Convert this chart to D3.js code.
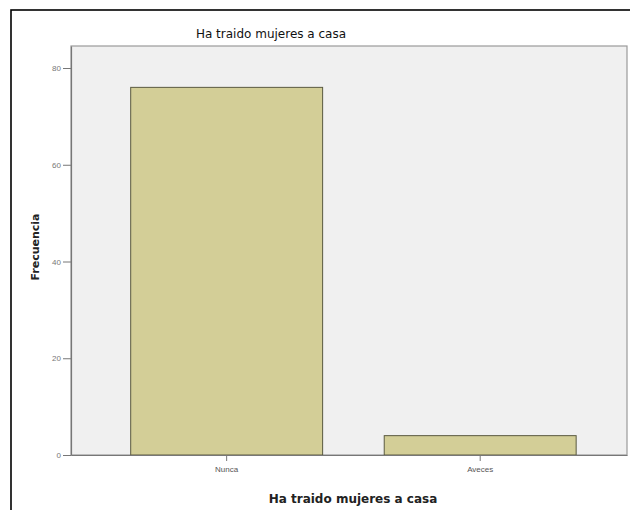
<!DOCTYPE html>
<html><head><meta charset="utf-8">
<script src="https://cdn.jsdelivr.net/npm/d3@7"></script>
<style>body{margin:0;background:#fff;} svg{display:block;font-family:"Liberation Sans",Arial,sans-serif;}</style>
</head><body>
<script>
const categories = ["Nunca", "Aveces"];
const frequencies = [76, 4];
const yTicks = [0, 20, 40, 60, 80];
const chartTitle = "Ha traido mujeres a casa";
const xTitle = "Ha traido mujeres a casa";
const yTitle = "Frecuencia";

const W = 630, H = 510;
const svg = d3.select("body").append("svg").attr("width", W).attr("height", H);

// outer frame
svg.append("rect").attr("x", 11).attr("y", 10).attr("width", 640).attr("height", 520)
  .attr("fill", "#fff").attr("stroke", "#000").attr("stroke-width", 1.6);

const plot = {left: 71, right: 627, top: 46, bottom: 455};

const x = d3.scaleBand().domain(categories).range([plot.left, plot.right])
  .paddingInner(0.243).paddingOuter(0.218).align(0.54);
const y = d3.scaleLinear().domain([0, 84.55]).range([plot.bottom, plot.top]);

svg.append("rect").attr("x", plot.left).attr("y", plot.top)
  .attr("width", plot.right - plot.left).attr("height", plot.bottom - plot.top)
  .attr("fill", "#f0f0f0").attr("stroke", "#9a9a9a").attr("stroke-width", 1.2);

svg.selectAll("rect.bar").data(categories).enter().append("rect").attr("class", "bar")
  .attr("x", d => x(d)).attr("width", x.bandwidth())
  .attr("y", (d, i) => y(frequencies[i])).attr("height", (d, i) => y(0) - y(frequencies[i]))
  .attr("fill", "#d3ce97").attr("stroke", "#5a5a40").attr("stroke-width", 1);

// y axis
const yAxis = svg.append("g").attr("transform", `translate(${plot.left},0)`)
  .call(d3.axisLeft(y).tickValues(yTicks).tickSize(8).tickPadding(2).tickSizeOuter(0));
yAxis.select(".domain").attr("stroke", "#777").attr("stroke-width", 1.2);
yAxis.selectAll(".tick line").attr("stroke", "#777");
yAxis.selectAll(".tick text").attr("fill", "#777").attr("font-size", 8)
  .attr("font-family", "Liberation Sans, Arial, sans-serif");

// x axis
const xAxis = svg.append("g").attr("transform", `translate(0,${plot.bottom})`)
  .call(d3.axisBottom(x).tickSize(6).tickPadding(5).tickSizeOuter(0));
xAxis.select(".domain").attr("stroke", "#777").attr("stroke-width", 1.2);
xAxis.selectAll(".tick line").attr("stroke", "#777");
xAxis.selectAll(".tick text").attr("fill", "#555").attr("font-size", 8)
  .attr("font-family", "Liberation Sans, Arial, sans-serif");

// titles
svg.append("text").attr("x", 271).attr("y", 38).attr("text-anchor", "middle")
  .attr("font-family", "DejaVu Sans, sans-serif")
  .attr("font-size", 12).attr("fill", "#111").text(chartTitle);
svg.append("text").attr("x", 353).attr("y", 503).attr("text-anchor", "middle")
  .attr("font-family", "DejaVu Sans, sans-serif")
  .attr("font-size", 12).attr("font-weight", "bold").attr("fill", "#222").text(xTitle);
svg.append("text").attr("transform", "translate(39,247) rotate(-90)").attr("text-anchor", "middle")
  .attr("font-family", "DejaVu Sans, sans-serif")
  .attr("font-size", 11).attr("font-weight", "bold").attr("fill", "#222").text(yTitle);
</script>
</body></html>
